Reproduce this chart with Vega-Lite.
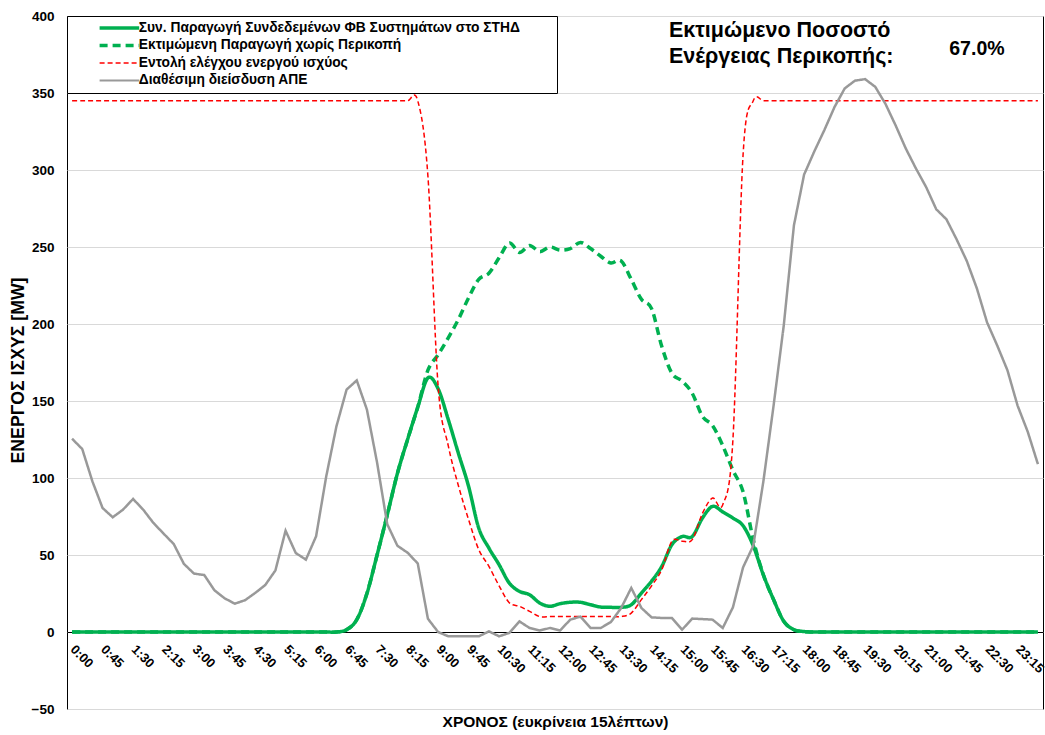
{
 "$schema": "https://vega.github.io/schema/vega-lite/v6.json",
 "width": 976,
 "height": 693,
 "autosize": {"type": "none"},
 "padding": {"left": 67, "top": 16, "right": 2, "bottom": 26},
 "background": "white",
 "config": {
  "view": {"stroke": "black", "strokeWidth": 1},
  "font": "Liberation Sans",
  "legend": {"orient": "none", "legendX": 0, "legendY": 0, "padding": 5, "fillColor": "white", "strokeColor": "black", "symbolType": "M-2.2,0H2.2", "symbolSize": 324, "symbolOffset": 40.5, "labelFont": "Liberation Sans", "labelFontSize": 13.8, "labelFontWeight": "bold", "labelColor": "black", "labelLimit": 0, "rowPadding": 2.5, "labelOffset": 12.5, "titleOrient": "right", "titlePadding": 32}
 },
 "datasets": {
  "series": [
{"t":"0:00","s":"pv","v":0},{"t":"0:15","s":"pv","v":0},{"t":"0:30","s":"pv","v":0},{"t":"0:45","s":"pv","v":0},{"t":"1:00","s":"pv","v":0},{"t":"1:15","s":"pv","v":0},{"t":"1:30","s":"pv","v":0},{"t":"1:45","s":"pv","v":0},{"t":"2:00","s":"pv","v":0},{"t":"2:15","s":"pv","v":0},{"t":"2:30","s":"pv","v":0},{"t":"2:45","s":"pv","v":0},{"t":"3:00","s":"pv","v":0},{"t":"3:15","s":"pv","v":0},{"t":"3:30","s":"pv","v":0},{"t":"3:45","s":"pv","v":0},{"t":"4:00","s":"pv","v":0},{"t":"4:15","s":"pv","v":0},{"t":"4:30","s":"pv","v":0},{"t":"4:45","s":"pv","v":0},{"t":"5:00","s":"pv","v":0},{"t":"5:15","s":"pv","v":0},{"t":"5:30","s":"pv","v":0},{"t":"5:45","s":"pv","v":0},{"t":"6:00","s":"pv","v":0},{"t":"6:15","s":"pv","v":0},{"t":"6:30","s":"pv","v":0},{"t":"6:45","s":"pv","v":1.5},{"t":"7:00","s":"pv","v":8},{"t":"7:15","s":"pv","v":25},{"t":"7:30","s":"pv","v":50},{"t":"7:45","s":"pv","v":76},{"t":"8:00","s":"pv","v":103},{"t":"8:15","s":"pv","v":125},{"t":"8:30","s":"pv","v":146},{"t":"8:45","s":"pv","v":165},{"t":"9:00","s":"pv","v":158},{"t":"9:15","s":"pv","v":138},{"t":"9:30","s":"pv","v":116},{"t":"9:45","s":"pv","v":94.6},{"t":"10:00","s":"pv","v":67.5},{"t":"10:15","s":"pv","v":54.5},{"t":"10:30","s":"pv","v":43.7},{"t":"10:45","s":"pv","v":31.8},{"t":"11:00","s":"pv","v":26.4},{"t":"11:15","s":"pv","v":24.2},{"t":"11:30","s":"pv","v":18.8},{"t":"11:45","s":"pv","v":16.7},{"t":"12:00","s":"pv","v":18.4},{"t":"12:15","s":"pv","v":19.3},{"t":"12:30","s":"pv","v":19.3},{"t":"12:45","s":"pv","v":17.7},{"t":"13:00","s":"pv","v":16.2},{"t":"13:15","s":"pv","v":16},{"t":"13:30","s":"pv","v":16},{"t":"13:45","s":"pv","v":17.7},{"t":"14:00","s":"pv","v":25.3},{"t":"14:15","s":"pv","v":33},{"t":"14:30","s":"pv","v":42.6},{"t":"14:45","s":"pv","v":56.7},{"t":"15:00","s":"pv","v":62},{"t":"15:15","s":"pv","v":62},{"t":"15:30","s":"pv","v":74},{"t":"15:45","s":"pv","v":81.6},{"t":"16:00","s":"pv","v":78},{"t":"16:15","s":"pv","v":74},{"t":"16:30","s":"pv","v":69},{"t":"16:45","s":"pv","v":56},{"t":"17:00","s":"pv","v":37},{"t":"17:15","s":"pv","v":21},{"t":"17:30","s":"pv","v":7},{"t":"17:45","s":"pv","v":1.5},{"t":"18:00","s":"pv","v":0.3},{"t":"18:15","s":"pv","v":0},{"t":"18:30","s":"pv","v":0},{"t":"18:45","s":"pv","v":0},{"t":"19:00","s":"pv","v":0},{"t":"19:15","s":"pv","v":0},{"t":"19:30","s":"pv","v":0},{"t":"19:45","s":"pv","v":0},{"t":"20:00","s":"pv","v":0},{"t":"20:15","s":"pv","v":0},{"t":"20:30","s":"pv","v":0},{"t":"20:45","s":"pv","v":0},{"t":"21:00","s":"pv","v":0},{"t":"21:15","s":"pv","v":0},{"t":"21:30","s":"pv","v":0},{"t":"21:45","s":"pv","v":0},{"t":"22:00","s":"pv","v":0},{"t":"22:15","s":"pv","v":0},{"t":"22:30","s":"pv","v":0},{"t":"22:45","s":"pv","v":0},{"t":"23:00","s":"pv","v":0},{"t":"23:15","s":"pv","v":0},{"t":"23:30","s":"pv","v":0},{"t":"23:45","s":"pv","v":0},
{"t":"0:00","s":"est","v":0},{"t":"0:15","s":"est","v":0},{"t":"0:30","s":"est","v":0},{"t":"0:45","s":"est","v":0},{"t":"1:00","s":"est","v":0},{"t":"1:15","s":"est","v":0},{"t":"1:30","s":"est","v":0},{"t":"1:45","s":"est","v":0},{"t":"2:00","s":"est","v":0},{"t":"2:15","s":"est","v":0},{"t":"2:30","s":"est","v":0},{"t":"2:45","s":"est","v":0},{"t":"3:00","s":"est","v":0},{"t":"3:15","s":"est","v":0},{"t":"3:30","s":"est","v":0},{"t":"3:45","s":"est","v":0},{"t":"4:00","s":"est","v":0},{"t":"4:15","s":"est","v":0},{"t":"4:30","s":"est","v":0},{"t":"4:45","s":"est","v":0},{"t":"5:00","s":"est","v":0},{"t":"5:15","s":"est","v":0},{"t":"5:30","s":"est","v":0},{"t":"5:45","s":"est","v":0},{"t":"6:00","s":"est","v":0},{"t":"6:15","s":"est","v":0},{"t":"6:30","s":"est","v":0},{"t":"6:45","s":"est","v":1.5},{"t":"7:00","s":"est","v":8},{"t":"7:15","s":"est","v":25},{"t":"7:30","s":"est","v":50},{"t":"7:45","s":"est","v":76},{"t":"8:00","s":"est","v":103},{"t":"8:15","s":"est","v":125},{"t":"8:30","s":"est","v":146},{"t":"8:45","s":"est","v":170},{"t":"9:00","s":"est","v":180},{"t":"9:15","s":"est","v":191},{"t":"9:30","s":"est","v":203},{"t":"9:45","s":"est","v":217},{"t":"10:00","s":"est","v":229},{"t":"10:15","s":"est","v":233},{"t":"10:30","s":"est","v":243},{"t":"10:45","s":"est","v":252.6},{"t":"11:00","s":"est","v":246.5},{"t":"11:15","s":"est","v":251},{"t":"11:30","s":"est","v":247},{"t":"11:45","s":"est","v":250},{"t":"12:00","s":"est","v":248},{"t":"12:15","s":"est","v":249},{"t":"12:30","s":"est","v":253},{"t":"12:45","s":"est","v":249},{"t":"13:00","s":"est","v":244},{"t":"13:15","s":"est","v":239.6},{"t":"13:30","s":"est","v":241},{"t":"13:45","s":"est","v":229},{"t":"14:00","s":"est","v":216},{"t":"14:15","s":"est","v":210},{"t":"14:30","s":"est","v":185.5},{"t":"14:45","s":"est","v":168},{"t":"15:00","s":"est","v":163},{"t":"15:15","s":"est","v":155},{"t":"15:30","s":"est","v":140},{"t":"15:45","s":"est","v":134},{"t":"16:00","s":"est","v":121},{"t":"16:15","s":"est","v":105},{"t":"16:30","s":"est","v":91},{"t":"16:45","s":"est","v":60},{"t":"17:00","s":"est","v":37},{"t":"17:15","s":"est","v":21},{"t":"17:30","s":"est","v":7},{"t":"17:45","s":"est","v":1.5},{"t":"18:00","s":"est","v":0.3},{"t":"18:15","s":"est","v":0},{"t":"18:30","s":"est","v":0},{"t":"18:45","s":"est","v":0},{"t":"19:00","s":"est","v":0},{"t":"19:15","s":"est","v":0},{"t":"19:30","s":"est","v":0},{"t":"19:45","s":"est","v":0},{"t":"20:00","s":"est","v":0},{"t":"20:15","s":"est","v":0},{"t":"20:30","s":"est","v":0},{"t":"20:45","s":"est","v":0},{"t":"21:00","s":"est","v":0},{"t":"21:15","s":"est","v":0},{"t":"21:30","s":"est","v":0},{"t":"21:45","s":"est","v":0},{"t":"22:00","s":"est","v":0},{"t":"22:15","s":"est","v":0},{"t":"22:30","s":"est","v":0},{"t":"22:45","s":"est","v":0},{"t":"23:00","s":"est","v":0},{"t":"23:15","s":"est","v":0},{"t":"23:30","s":"est","v":0},{"t":"23:45","s":"est","v":0},
{"t":"0:00","s":"cmd","v":345},{"t":"0:15","s":"cmd","v":345},{"t":"0:30","s":"cmd","v":345},{"t":"0:45","s":"cmd","v":345},{"t":"1:00","s":"cmd","v":345},{"t":"1:15","s":"cmd","v":345},{"t":"1:30","s":"cmd","v":345},{"t":"1:45","s":"cmd","v":345},{"t":"2:00","s":"cmd","v":345},{"t":"2:15","s":"cmd","v":345},{"t":"2:30","s":"cmd","v":345},{"t":"2:45","s":"cmd","v":345},{"t":"3:00","s":"cmd","v":345},{"t":"3:15","s":"cmd","v":345},{"t":"3:30","s":"cmd","v":345},{"t":"3:45","s":"cmd","v":345},{"t":"4:00","s":"cmd","v":345},{"t":"4:15","s":"cmd","v":345},{"t":"4:30","s":"cmd","v":345},{"t":"4:45","s":"cmd","v":345},{"t":"5:00","s":"cmd","v":345},{"t":"5:15","s":"cmd","v":345},{"t":"5:30","s":"cmd","v":345},{"t":"5:45","s":"cmd","v":345},{"t":"6:00","s":"cmd","v":345},{"t":"6:15","s":"cmd","v":345},{"t":"6:30","s":"cmd","v":345},{"t":"6:45","s":"cmd","v":345},{"t":"7:00","s":"cmd","v":345},{"t":"7:15","s":"cmd","v":345},{"t":"7:30","s":"cmd","v":345},{"t":"7:45","s":"cmd","v":345},{"t":"8:00","s":"cmd","v":345},{"t":"8:15","s":"cmd","v":345},{"t":"8:30","s":"cmd","v":345},{"t":"8:45","s":"cmd","v":296},{"t":"9:00","s":"cmd","v":160},{"t":"9:15","s":"cmd","v":121},{"t":"9:30","s":"cmd","v":95},{"t":"9:45","s":"cmd","v":73},{"t":"10:00","s":"cmd","v":53.5},{"t":"10:15","s":"cmd","v":42.6},{"t":"10:30","s":"cmd","v":30},{"t":"10:45","s":"cmd","v":19},{"t":"11:00","s":"cmd","v":16.7},{"t":"11:15","s":"cmd","v":13.4},{"t":"11:30","s":"cmd","v":10},{"t":"11:45","s":"cmd","v":10},{"t":"12:00","s":"cmd","v":10},{"t":"12:15","s":"cmd","v":10},{"t":"12:30","s":"cmd","v":10},{"t":"12:45","s":"cmd","v":10},{"t":"13:00","s":"cmd","v":10},{"t":"13:15","s":"cmd","v":10},{"t":"13:30","s":"cmd","v":10},{"t":"13:45","s":"cmd","v":12.3},{"t":"14:00","s":"cmd","v":21},{"t":"14:15","s":"cmd","v":30},{"t":"14:30","s":"cmd","v":40.5},{"t":"14:45","s":"cmd","v":59},{"t":"15:00","s":"cmd","v":59},{"t":"15:15","s":"cmd","v":60},{"t":"15:30","s":"cmd","v":77},{"t":"15:45","s":"cmd","v":87},{"t":"16:00","s":"cmd","v":82.7},{"t":"16:15","s":"cmd","v":125},{"t":"16:30","s":"cmd","v":310},{"t":"16:45","s":"cmd","v":345},{"t":"17:00","s":"cmd","v":345},{"t":"17:15","s":"cmd","v":345},{"t":"17:30","s":"cmd","v":345},{"t":"17:45","s":"cmd","v":345},{"t":"18:00","s":"cmd","v":345},{"t":"18:15","s":"cmd","v":345},{"t":"18:30","s":"cmd","v":345},{"t":"18:45","s":"cmd","v":345},{"t":"19:00","s":"cmd","v":345},{"t":"19:15","s":"cmd","v":345},{"t":"19:30","s":"cmd","v":345},{"t":"19:45","s":"cmd","v":345},{"t":"20:00","s":"cmd","v":345},{"t":"20:15","s":"cmd","v":345},{"t":"20:30","s":"cmd","v":345},{"t":"20:45","s":"cmd","v":345},{"t":"21:00","s":"cmd","v":345},{"t":"21:15","s":"cmd","v":345},{"t":"21:30","s":"cmd","v":345},{"t":"21:45","s":"cmd","v":345},{"t":"22:00","s":"cmd","v":345},{"t":"22:15","s":"cmd","v":345},{"t":"22:30","s":"cmd","v":345},{"t":"22:45","s":"cmd","v":345},{"t":"23:00","s":"cmd","v":345},{"t":"23:15","s":"cmd","v":345},{"t":"23:30","s":"cmd","v":345},{"t":"23:45","s":"cmd","v":345},
{"t":"0:00","s":"res","v":125.5},{"t":"0:15","s":"res","v":118.8},{"t":"0:30","s":"res","v":97.8},{"t":"0:45","s":"res","v":80.5},{"t":"1:00","s":"res","v":74.5},{"t":"1:15","s":"res","v":79.4},{"t":"1:30","s":"res","v":86.4},{"t":"1:45","s":"res","v":79.4},{"t":"2:00","s":"res","v":70.8},{"t":"2:15","s":"res","v":63.9},{"t":"2:30","s":"res","v":57.1},{"t":"2:45","s":"res","v":44.2},{"t":"3:00","s":"res","v":37.9},{"t":"3:15","s":"res","v":37},{"t":"3:30","s":"res","v":27.1},{"t":"3:45","s":"res","v":21.9},{"t":"4:00","s":"res","v":18.4},{"t":"4:15","s":"res","v":20.6},{"t":"4:30","s":"res","v":25.3},{"t":"4:45","s":"res","v":30.5},{"t":"5:00","s":"res","v":40},{"t":"5:15","s":"res","v":65.8},{"t":"5:30","s":"res","v":51.3},{"t":"5:45","s":"res","v":47},{"t":"6:00","s":"res","v":62.1},{"t":"6:15","s":"res","v":101.1},{"t":"6:30","s":"res","v":133.5},{"t":"6:45","s":"res","v":157.4},{"t":"7:00","s":"res","v":163.4},{"t":"7:15","s":"res","v":144.4},{"t":"7:30","s":"res","v":110},{"t":"7:45","s":"res","v":70},{"t":"8:00","s":"res","v":56},{"t":"8:15","s":"res","v":51.5},{"t":"8:30","s":"res","v":44.5},{"t":"8:45","s":"res","v":8.6},{"t":"9:00","s":"res","v":0},{"t":"9:15","s":"res","v":-2.8},{"t":"9:30","s":"res","v":-2.8},{"t":"9:45","s":"res","v":-2.8},{"t":"10:00","s":"res","v":-2.8},{"t":"10:15","s":"res","v":0.4},{"t":"10:30","s":"res","v":-2.8},{"t":"10:45","s":"res","v":-0.6},{"t":"11:00","s":"res","v":6.9},{"t":"11:15","s":"res","v":2.6},{"t":"11:30","s":"res","v":1},{"t":"11:45","s":"res","v":2.6},{"t":"12:00","s":"res","v":1},{"t":"12:15","s":"res","v":8},{"t":"12:30","s":"res","v":10},{"t":"12:45","s":"res","v":2.6},{"t":"13:00","s":"res","v":2.6},{"t":"13:15","s":"res","v":6.5},{"t":"13:30","s":"res","v":15.5},{"t":"13:45","s":"res","v":28.6},{"t":"14:00","s":"res","v":15.6},{"t":"14:15","s":"res","v":9.5},{"t":"14:30","s":"res","v":9.1},{"t":"14:45","s":"res","v":9.1},{"t":"15:00","s":"res","v":1.5},{"t":"15:15","s":"res","v":8.7},{"t":"15:30","s":"res","v":8.4},{"t":"15:45","s":"res","v":8},{"t":"16:00","s":"res","v":2.6},{"t":"16:15","s":"res","v":16},{"t":"16:30","s":"res","v":42},{"t":"16:45","s":"res","v":56},{"t":"17:00","s":"res","v":98},{"t":"17:15","s":"res","v":147},{"t":"17:30","s":"res","v":199},{"t":"17:45","s":"res","v":264},{"t":"18:00","s":"res","v":297},{"t":"18:15","s":"res","v":312},{"t":"18:30","s":"res","v":326},{"t":"18:45","s":"res","v":341},{"t":"19:00","s":"res","v":353},{"t":"19:15","s":"res","v":358},{"t":"19:30","s":"res","v":359},{"t":"19:45","s":"res","v":354},{"t":"20:00","s":"res","v":343},{"t":"20:15","s":"res","v":329},{"t":"20:30","s":"res","v":314},{"t":"20:45","s":"res","v":301},{"t":"21:00","s":"res","v":289},{"t":"21:15","s":"res","v":274.5},{"t":"21:30","s":"res","v":268},{"t":"21:45","s":"res","v":255},{"t":"22:00","s":"res","v":241},{"t":"22:15","s":"res","v":223},{"t":"22:30","s":"res","v":201},{"t":"22:45","s":"res","v":186},{"t":"23:00","s":"res","v":170},{"t":"23:15","s":"res","v":147},{"t":"23:30","s":"res","v":130},{"t":"23:45","s":"res","v":109}
  ]
 },
 "data": {"name": "series"},
 "encoding": {
  "x": {
   "field": "t", "type": "ordinal",
   "scale": {"type": "point", "padding": 0.5, "domain": ["0:00","0:15","0:30","0:45","1:00","1:15","1:30","1:45","2:00","2:15","2:30","2:45","3:00","3:15","3:30","3:45","4:00","4:15","4:30","4:45","5:00","5:15","5:30","5:45","6:00","6:15","6:30","6:45","7:00","7:15","7:30","7:45","8:00","8:15","8:30","8:45","9:00","9:15","9:30","9:45","10:00","10:15","10:30","10:45","11:00","11:15","11:30","11:45","12:00","12:15","12:30","12:45","13:00","13:15","13:30","13:45","14:00","14:15","14:30","14:45","15:00","15:15","15:30","15:45","16:00","16:15","16:30","16:45","17:00","17:15","17:30","17:45","18:00","18:15","18:30","18:45","19:00","19:15","19:30","19:45","20:00","20:15","20:30","20:45","21:00","21:15","21:30","21:45","22:00","22:15","22:30","22:45","23:00","23:15","23:30","23:45"]},
   "axis": {
    "title": "ΧΡΟΝΟΣ (ευκρίνεια 15λέπτων)",
    "values": ["0:00","0:45","1:30","2:15","3:00","3:45","4:30","5:15","6:00","6:45","7:30","8:15","9:00","9:45","10:30","11:15","12:00","12:45","13:30","14:15","15:00","15:45","16:30","17:15","18:00","18:45","19:30","20:15","21:00","21:45","22:30","23:15"],
    "offset": -77, "grid": false, "ticks": false, "domainColor": "black", "domainWidth": 1,
    "labelAngle": 45, "labelAlign": "left", "labelBaseline": "middle", "labelPadding": 15,
    "labelFont": "Liberation Sans", "labelFontSize": 13, "labelFontWeight": "bold", "labelColor": "black", "labelOverlap": false, "labelBound": false,
    "titleFont": "Liberation Sans", "titleFontSize": 15.5, "titleFontWeight": "bold", "titleColor": "black",
    "titleY": 94, "titleBaseline": "alphabetic"
   }
  },
  "y": {
   "field": "v", "type": "quantitative",
   "scale": {"domain": [-50, 400], "nice": false, "zero": false},
   "axis": {
    "title": "ΕΝΕΡΓΟΣ ΙΣΧΥΣ [MW]",
    "values": [-50, 0, 50, 100, 150, 200, 250, 300, 350, 400],
    "domain": false, "ticks": false, "grid": true, "gridColor": "#D9D9D9", "gridWidth": 1,
    "labelPadding": 13, "labelFont": "Liberation Sans", "labelFontSize": 13.5, "labelFontWeight": "bold", "labelColor": "black",
    "titleFont": "Liberation Sans", "titleFontSize": 17.7, "titleFontWeight": "bold", "titleColor": "black",
    "titleX": -49, "titleY": 354, "titleAlign": "center", "titleBaseline": "middle", "titleAngle": -90
   }
  }
 },
 "layer": [
  {
   "transform": [{"filter": "datum.s !== 'res'"}],
   "mark": {"type": "line", "interpolate": "cardinal"},
   "encoding": {
    "color": {"field": "s", "type": "nominal", "scale": {"domain": ["pv","est","cmd","res"], "range": ["#00B050","#00B050","#FF0000","#999999"]},
     "legend": {"title": "\u00a0",
      "labelExpr": "datum.label === 'pv' ? 'Συν. Παραγωγή Συνδεδεμένων ΦΒ Συστημάτων στο ΣΤΗΔ' : datum.label === 'est' ? 'Εκτιμώμενη Παραγωγή χωρίς Περικοπή' : datum.label === 'cmd' ? 'Εντολή ελέγχου ενεργού ισχύος' : 'Διαθέσιμη διείσδυση ΑΠΕ'",
      "encode": {"symbols": {"update": {"strokeWidth": {"signal": "datum.value === 'cmd' ? 1.5 : datum.value === 'res' ? 2 : 3.5"}}}}}},
    "strokeDash": {"field": "s", "type": "nominal", "scale": {"domain": ["pv","est","cmd","res"], "range": [[1,0],[8,5],[5,3],[1,0]]},
     "legend": {"title": "\u00a0",
      "labelExpr": "datum.label === 'pv' ? 'Συν. Παραγωγή Συνδεδεμένων ΦΒ Συστημάτων στο ΣΤΗΔ' : datum.label === 'est' ? 'Εκτιμώμενη Παραγωγή χωρίς Περικοπή' : datum.label === 'cmd' ? 'Εντολή ελέγχου ενεργού ισχύος' : 'Διαθέσιμη διείσδυση ΑΠΕ'",
      "encode": {"symbols": {"update": {"strokeWidth": {"signal": "datum.value === 'cmd' ? 1.5 : datum.value === 'res' ? 2 : 3.5"}}}}}},
    "strokeWidth": {"field": "s", "type": "nominal", "scale": {"type": "ordinal", "domain": ["pv","est","cmd","res"], "range": [3.5,3.5,1.5,2]}, "legend": null}
   }
  },
  {
   "transform": [{"filter": "datum.s === 'res'"}],
   "mark": {"type": "line", "interpolate": "linear"},
   "encoding": {
    "color": {"field": "s", "type": "nominal"},
    "strokeDash": {"field": "s", "type": "nominal"},
    "strokeWidth": {"field": "s", "type": "nominal", "legend": null}
   }
  },
  {
   "transform": [{"filter": "datum.s === 'res' && datum.t === '14:45'"}],
   "mark": {"type": "text", "text": ["Εκτιμώμενο Ποσοστό", "Ενέργειας Περικοπής:"], "align": "left", "baseline": "alphabetic", "font": "Liberation Sans", "fontSize": 21.5, "fontWeight": "bold", "lineHeight": 26, "fill": "black", "dx": -3},
   "encoding": {"x": {"field": "t", "type": "ordinal"}, "y": {"datum": 386.4, "type": "quantitative"}}
  },
  {
   "transform": [
    {"filter": "datum.s === 'res' && datum.t === '22:15'"},
    {"lookup": "s", "from": {"data": {"values": [{"s": "res", "pct": 0.67}]}, "key": "s", "fields": ["pct"]}}
   ],
   "mark": {"type": "text", "align": "center", "baseline": "alphabetic", "font": "Liberation Sans", "fontSize": 19.5, "fontWeight": "bold", "fill": "black"},
   "encoding": {"x": {"field": "t", "type": "ordinal"}, "y": {"datum": 374.7, "type": "quantitative"}, "text": {"field": "pct", "type": "quantitative", "format": ".1%"}}
  }
 ]
}
